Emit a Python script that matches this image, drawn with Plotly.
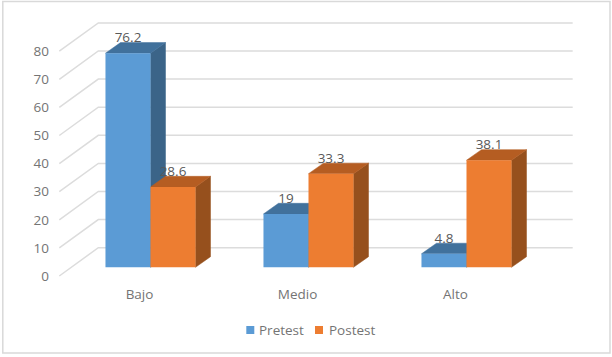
import plotly.graph_objects as go

categories = ["Bajo", "Medio", "Alto"]
pretest = [76.2, 19, 4.8]
postest = [28.6, 33.3, 38.1]
y_ticks = [0, 10, 20, 30, 40, 50, 60, 70, 80]

W, H = 612, 357
PX_CAT = 158.0      # px per category
PX_VAL = 2.81       # px per value unit
CX0 = 150.5         # px of first category centre
Y0 = 267.3          # px of value 0 on bar front
L, BOT = 50, 280    # plot area left and bottom, px

xr = [(L - CX0) / PX_CAT, (W - CX0) / PX_CAT]
yr = [(Y0 - BOT) / PX_VAL, Y0 / PX_VAL]

DX = 15 / PX_CAT
DY = 10.6 / PX_VAL
BW = 45 / PX_CAT
FRONT = -8.7 / PX_VAL
BACK = 19.6 / PX_VAL
WALL_L = (98.3 - CX0) / PX_CAT
WALL_R = (572.7 - CX0) / PX_CAT
AXIS_L = (59.3 - CX0) / PX_CAT
LABEL_SHIFT = -11 / PX_CAT
LABEL_LIFT = 14.3 / PX_VAL

GRID = "#dcdcdc"
TXT = "#747474"
FONT = "Open Sans"
FS = 13.5
SERIES = [
    ("Pretest", pretest, -1, "#5b9bd5", "#41719c", "#3b6488"),
    ("Postest", postest, 0, "#ed7d31", "#b55d22", "#96501d"),
]

fig = go.Figure()


def poly(xs, ys, color):
    fig.add_trace(go.Scatter(x=xs, y=ys, mode="lines", fill="toself", fillcolor=color,
                             line=dict(color=color, width=0.5), showlegend=False, hoverinfo="skip"))


# floor diagonals and back-wall grid
for t in y_ticks:
    fig.add_trace(go.Scatter(x=[AXIS_L, WALL_L, WALL_R], y=[t + FRONT, t + BACK, t + BACK],
                             mode="lines", line=dict(color=GRID, width=1.5),
                             showlegend=False, hoverinfo="skip"))

# side and top faces of each bar
for name, vals, off, c, ctop, cside in SERIES:
    for i, v in enumerate(vals):
        x0 = i + off * BW
        x1 = x0 + BW
        poly([x1, x1 + DX, x1 + DX, x1, x1], [0, DY, v + DY, v, 0], cside)
        poly([x0, x0 + DX, x1 + DX, x1, x0], [v, v + DY, v + DY, v, v], ctop)

# front faces
for name, vals, off, c, ctop, cside in SERIES:
    fig.add_trace(go.Bar(x=list(range(len(categories))), y=vals, name=name, marker=dict(color=c, line=dict(width=0)),
                         xaxis="x2", yaxis="y2", showlegend=False))

# data labels
for name, vals, off, c, ctop, cside in SERIES:
    fig.add_trace(go.Scatter(x=[i + (off + 0.5) * BW for i in range(len(vals))],
                             y=[v + LABEL_LIFT for v in vals],
                             mode="text", text=[str(v) for v in vals], textposition="middle center",
                             textfont=dict(family=FONT, size=FS, color="#595959"),
                             xaxis="x2", yaxis="y2", showlegend=False, hoverinfo="skip"))


def pxx(p):
    return (p - L) / (W - L)


def pxy(p):
    return 1 - p / BOT


shapes = [dict(type="rect", xref="paper", yref="paper", x0=pxx(2.8), x1=pxx(610), y0=pxy(1.5), y1=pxy(353),
               line=dict(color="#d9d9d9", width=1.5), layer="below")]
annotations = []
for (name, *_rest), sq, tx in zip(SERIES, [246.3, 315], [258.3, 327.7]):
    color = _rest[2]
    shapes.append(dict(type="rect", xref="paper", yref="paper", x0=pxx(sq), x1=pxx(sq + 8), y0=pxy(326), y1=pxy(334),
                       fillcolor=color, line=dict(width=0)))
    annotations.append(dict(xref="paper", yref="paper", x=pxx(tx), y=pxy(329.5), xanchor="left", yanchor="middle",
                            text=name, showarrow=False, xshift=-1, font=dict(family=FONT, size=FS, color=TXT)))

fig.update_layout(
    width=W, height=H, autosize=False,
    margin=dict(l=L, r=0, t=0, b=H - BOT, pad=0),
    paper_bgcolor="white", plot_bgcolor="rgba(0,0,0,0)",
    barmode="group", bargap=0.43, bargroupgap=0,
    showlegend=False, shapes=shapes, annotations=annotations,
    font=dict(family=FONT, size=FS, color=TXT),
    xaxis=dict(range=xr, showgrid=False, zeroline=False, showline=False, ticks="",
               tickmode="array", tickvals=[i + LABEL_SHIFT for i in range(len(categories))],
               ticktext=categories, ticklabelstandoff=4, tickfont=dict(family=FONT, size=FS, color=TXT)),
    yaxis=dict(range=yr, showgrid=False, zeroline=False, showline=False, ticks="",
               tickmode="array", tickvals=[t + FRONT for t in y_ticks],
               ticktext=[str(t) for t in y_ticks], tickfont=dict(family=FONT, size=FS, color=TXT)),
    xaxis2=dict(range=xr, overlaying="x", visible=False),
    yaxis2=dict(range=yr, overlaying="y", visible=False),
)

fig.write_html("out.html", config=dict(displayModeBar=False),
               post_script="document.body.style.margin='0';document.body.style.overflow='hidden';")
